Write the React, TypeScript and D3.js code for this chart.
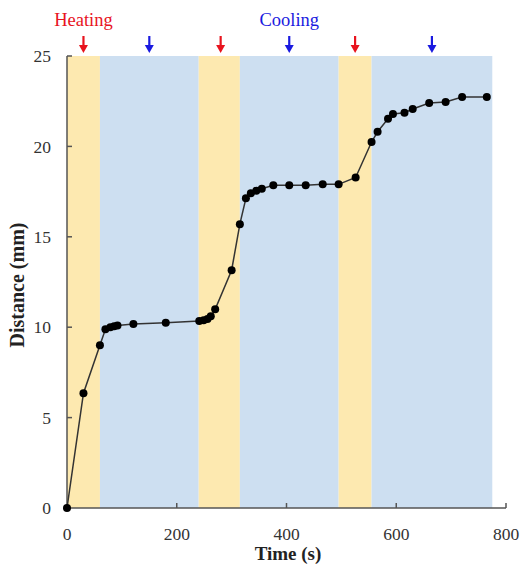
import React from "react";
import * as d3 from "d3";

const times = [0, 30, 60, 70, 79, 86, 92, 121, 180, 241, 249, 256, 262, 270, 300, 315, 326, 335, 345, 355, 376, 405, 435, 466, 495, 526, 555, 566, 585, 594, 615, 630, 660, 690, 720, 765];
const distances = [0, 6.35, 9.0, 9.88, 10.0, 10.05, 10.1, 10.18, 10.25, 10.34, 10.38, 10.45, 10.6, 10.99, 13.15, 15.7, 17.13, 17.41, 17.55, 17.66, 17.85, 17.85, 17.85, 17.9, 17.9, 18.28, 20.24, 20.81, 21.53, 21.79, 21.86, 22.07, 22.4, 22.46, 22.73, 22.73];

const phaseStarts = [0, 60, 240, 315, 495, 555];
const phaseEnds = [60, 240, 315, 495, 555, 775];
const phaseTypes = ["heat", "cool", "heat", "cool", "heat", "cool"];
const arrowTimes = [30, 150, 280, 405, 525, 665];
const arrowTypes = ["heat", "cool", "heat", "cool", "heat", "cool"];

const xTicks = [0, 200, 400, 600, 800];
const yTicks = [0, 5, 10, 15, 20, 25];

const W = 523, H = 564;
const M = { left: 67, right: 17, top: 56, bottom: 56 };

export default function App() {
  const x = d3.scaleLinear().domain([0, 800]).range([M.left, W - M.right]);
  const y = d3.scaleLinear().domain([0, 25]).range([H - M.bottom, M.top]);
  const line = d3.line<number>().x((_, i) => x(times[i])).y((d) => y(d));
  const font = "'Liberation Serif', 'Times New Roman', serif";
  const red = "#e8141e";
  const blue = "#1a1ae0";
  const axisColor = "#555";
  return (
    <svg width={W} height={H} style={{ position: "absolute", left: 0, top: 0 }} fontFamily={font}>
      {phaseStarts.map((s, i) => (
        <rect key={i} x={x(s)} y={y(25)} width={x(phaseEnds[i]) - x(s)} height={y(0) - y(25)}
          fill={phaseTypes[i] === "heat" ? "#fde9b0" : "#cddff1"} />
      ))}
      {/* axes */}
      <line x1={x(0)} x2={x(800)} y1={y(0)} y2={y(0)} stroke={axisColor} strokeWidth={1.5} />
      <line x1={x(0)} x2={x(0)} y1={y(0)} y2={y(25)} stroke={axisColor} strokeWidth={1.5} />
      {xTicks.map((t) => (
        <g key={t}>
          {t > 0 && <line x1={x(t)} x2={x(t)} y1={y(0)} y2={y(0) - 5} stroke={axisColor} strokeWidth={1.5} />}
          <text x={x(t)} y={y(0) + 32} textAnchor="middle" fontSize={17.5} fill="#333">{t}</text>
        </g>
      ))}
      {yTicks.map((t) => (
        <g key={t}>
          {t > 0 && <line x1={x(0)} x2={x(0) + 5} y1={y(t)} y2={y(t)} stroke={axisColor} strokeWidth={1.5} />}
          <text x={51} y={y(t)} dy="0.35em" textAnchor="end" fontSize={17.5} fill="#333">{t}</text>
        </g>
      ))}
      <text x={288} y={560} textAnchor="middle" fontSize={19} fontWeight="bold" fill="#222">Time (s)</text>
      <text transform={`translate(24, 285) rotate(-90)`} textAnchor="middle" fontSize={20} fontWeight="bold" fill="#222">Distance (mm)</text>
      {/* data */}
      <path d={line(distances) || ""} fill="none" stroke="#333" strokeWidth={1.5} />
      {distances.map((d, i) => (
        <circle key={i} cx={x(times[i])} cy={y(d)} r={4} fill="#000" />
      ))}
      {/* arrows */}
      {arrowTimes.map((t, i) => {
        const c = arrowTypes[i] === "heat" ? red : blue;
        const cx = x(t);
        return (
          <g key={i}>
            <line x1={cx} x2={cx} y1={36} y2={46} stroke={c} strokeWidth={2.2} />
            <path d={`M${cx - 4.5},${45} L${cx + 4.5},${45} L${cx},${53} Z`} fill={c} />
          </g>
        );
      })}
      <text x={x(30)} y={26} textAnchor="middle" fontSize={18.5} fill={red}>Heating</text>
      <text x={x(405)} y={26} textAnchor="middle" fontSize={18.5} fill={blue}>Cooling</text>
    </svg>
  );
}
